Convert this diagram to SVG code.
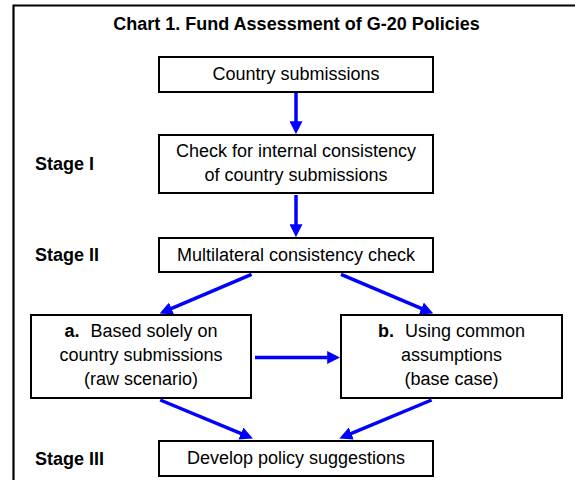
<svg xmlns="http://www.w3.org/2000/svg" width="575" height="480" viewBox="0 0 575 480">
<style>
.t{font-family:"Liberation Sans",Arial,sans-serif;font-size:18px;fill:#000;text-anchor:middle}
.b{font-weight:bold}
.s{font-family:"Liberation Sans",Arial,sans-serif;font-size:18px;font-weight:bold;fill:#000}
.box{fill:#fff;stroke:#000;stroke-width:2}
.ar{stroke:#0000ff;stroke-width:3.5;fill:none;marker-end:url(#ah)}
</style>
<defs>
<marker id="ah" markerUnits="userSpaceOnUse" markerWidth="13" markerHeight="13" refX="4" refY="6" orient="auto" viewBox="0 0 12 12">
<path d="M0,0 L12,6 L0,12 z" fill="#0000ff"/>
</marker>
</defs>
<rect width="575" height="480" fill="#fff"/>
<g id="frame">
<path d="M13.5,480 V5.5 H575" fill="none" stroke="#000" stroke-width="2.2"/>
</g>
<text class="t b" x="296.5" y="30">Chart 1. Fund Assessment of G-20 Policies</text>
<g id="stage1"><text class="s" x="35" y="170">Stage I</text></g>
<g id="stage2"><text class="s" x="35" y="261">Stage II</text></g>
<g id="stage3"><text class="s" x="35" y="465">Stage III</text></g>
<g id="connectors">
<line class="ar" x1="296" y1="93" x2="296" y2="125.5"/>
<line class="ar" x1="296" y1="195" x2="296" y2="228.5"/>
<line class="ar" x1="251.6" y1="274.3" x2="167.6" y2="310.2"/>
<line class="ar" x1="341" y1="274.3" x2="425.3" y2="310.2"/>
<line class="ar" x1="255" y1="357.5" x2="331.5" y2="357.5"/>
<line class="ar" x1="160.2" y1="400" x2="244.9" y2="435.2"/>
<line class="ar" x1="431.6" y1="400" x2="347.3" y2="435.2"/>
</g>
<g id="n1">
<rect class="box" x="159" y="57" width="274" height="35"/>
<text class="t" x="296" y="80">Country submissions</text>
</g>
<g id="n2">
<rect class="box" x="159" y="135" width="274" height="58"/>
<text class="t" x="296" y="157">Check for internal consistency</text>
<text class="t" x="296" y="181">of country submissions</text>
</g>
<g id="n3">
<rect class="box" x="159" y="238" width="274" height="34"/>
<text class="t" x="296" y="261">Multilateral consistency check</text>
</g>
<g id="na">
<rect class="box" x="31" y="315" width="220" height="83"/>
<text class="t" x="141" y="337"><tspan class="b">a.</tspan><tspan dx="11">Based solely on</tspan></text>
<text class="t" x="141" y="361">country submissions</text>
<text class="t" x="141" y="385">(raw scenario)</text>
</g>
<g id="nb">
<rect class="box" x="341" y="315" width="221" height="83"/>
<text class="t" x="451.5" y="337"><tspan class="b">b.</tspan><tspan dx="11">Using common</tspan></text>
<text class="t" x="451.5" y="361">assumptions</text>
<text class="t" x="451.5" y="385">(base case)</text>
</g>
<g id="n4">
<rect class="box" x="159" y="441" width="274" height="35"/>
<text class="t" x="296" y="464">Develop policy suggestions</text>
</g>
</svg>
